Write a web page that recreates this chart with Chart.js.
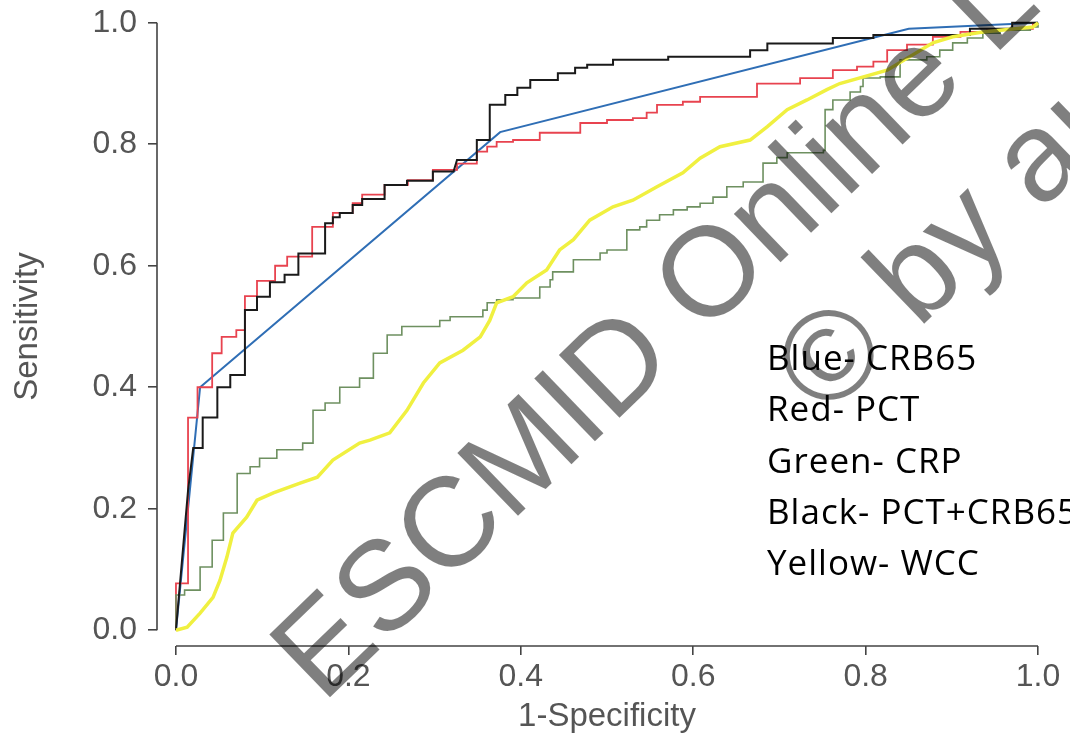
<!DOCTYPE html>
<html>
<head>
<meta charset="utf-8">
<script src="https://cdn.jsdelivr.net/npm/chart.js@4.4.1/dist/chart.umd.min.js"></script>
<style>
  html, body { margin: 0; padding: 0; background: #fff; overflow: hidden; }
  #wrap { position: relative; width: 1070px; height: 740px; overflow: hidden; background: #fff; }
  #rocChart { position: absolute; left: 0; top: 0; }
  .key {
    position: absolute; left: 767px; top: 331px;
    font-family: "Open Sans", sans-serif; font-size: 35px; line-height: 51.3px; letter-spacing: 1px;
    color: #000; white-space: pre;
  }
  .stamp {
    position: absolute; left: 242px; top: 621px;
    transform-origin: 0 0; transform: rotate(-44deg);
    font-family: "Liberation Sans", Arial, sans-serif; font-size: 127px; line-height: 144px;
    text-align: center; color: rgba(0, 0, 0, 0.5); white-space: pre; pointer-events: none;
  }
</style>
</head>
<body>
<div id="wrap">
  <canvas id="rocChart" width="1070" height="740"></canvas>
  <div class="key">Blue- CRB65
Red- PCT
Green- CRP
Black- PCT+CRB65
Yellow- WCC</div>
  <div class="stamp">ESCMID Online Lecture Library
© by author</div>
</div>
<script>
(function() {
  'use strict';

  // axis ticks
  const xTicks = [0, 0.2, 0.4, 0.6, 0.8, 1.0];
  const yTicks = [0, 0.2, 0.4, 0.6, 0.8, 1.0];

  // ROC points: [1-specificity, sensitivity]
  const crb65 = [[0, 0], [0.028, 0.40], [0.376, 0.82], [0.85, 0.99], [1, 1]];

  const pct = [
    [0, 0], [0, 0.077], [0.014, 0.077], [0.014, 0.35], [0.025, 0.35], [0.025, 0.40],
    [0.042, 0.40], [0.042, 0.456], [0.053, 0.456], [0.053, 0.483], [0.070, 0.483], [0.070, 0.494],
    [0.080, 0.494], [0.080, 0.55], [0.094, 0.55], [0.094, 0.575], [0.115, 0.575], [0.115, 0.60],
    [0.129, 0.60], [0.129, 0.615], [0.158, 0.615], [0.158, 0.664], [0.182, 0.664], [0.182, 0.687],
    [0.205, 0.687], [0.205, 0.703], [0.216, 0.703], [0.216, 0.717], [0.242, 0.717], [0.242, 0.733],
    [0.269, 0.733], [0.269, 0.741], [0.298, 0.741], [0.298, 0.758], [0.326, 0.758], [0.326, 0.768],
    [0.349, 0.768], [0.349, 0.788], [0.361, 0.788], [0.361, 0.796], [0.372, 0.796], [0.372, 0.804],
    [0.391, 0.804], [0.391, 0.807], [0.422, 0.807], [0.422, 0.819], [0.469, 0.819], [0.469, 0.835],
    [0.50, 0.835], [0.50, 0.84], [0.530, 0.84], [0.530, 0.843], [0.546, 0.843], [0.546, 0.852],
    [0.558, 0.852], [0.558, 0.865], [0.588, 0.865], [0.588, 0.870], [0.608, 0.870], [0.608, 0.878],
    [0.674, 0.878], [0.674, 0.90], [0.724, 0.90], [0.724, 0.909], [0.762, 0.909], [0.762, 0.922],
    [0.790, 0.922], [0.790, 0.928], [0.809, 0.928], [0.809, 0.936], [0.825, 0.936], [0.825, 0.955],
    [0.848, 0.955], [0.848, 0.964], [0.878, 0.964], [0.878, 0.977], [0.910, 0.977], [0.910, 0.985],
    [0.941, 0.985], [0.941, 0.99], [0.994, 0.99], [0.994, 1.0], [1, 1]
  ];

  const crp = [
    [0, 0], [0, 0.058], [0.010, 0.058], [0.010, 0.066], [0.028, 0.066], [0.028, 0.104],
    [0.042, 0.104], [0.042, 0.148], [0.055, 0.148], [0.055, 0.193], [0.071, 0.193], [0.071, 0.258],
    [0.086, 0.258], [0.086, 0.269], [0.097, 0.269], [0.097, 0.283], [0.117, 0.283], [0.117, 0.297],
    [0.147, 0.297], [0.147, 0.308], [0.159, 0.308], [0.159, 0.362], [0.173, 0.362], [0.173, 0.374],
    [0.190, 0.374], [0.190, 0.40], [0.213, 0.40], [0.213, 0.415], [0.229, 0.415], [0.229, 0.456],
    [0.245, 0.456], [0.245, 0.486], [0.262, 0.486], [0.262, 0.50], [0.306, 0.50], [0.306, 0.51],
    [0.318, 0.51], [0.318, 0.516], [0.356, 0.516], [0.356, 0.527], [0.361, 0.527], [0.361, 0.539],
    [0.372, 0.539], [0.372, 0.544], [0.391, 0.544], [0.391, 0.547], [0.422, 0.547], [0.422, 0.565],
    [0.434, 0.565], [0.434, 0.577], [0.437, 0.577], [0.437, 0.590], [0.461, 0.590], [0.461, 0.61],
    [0.492, 0.61], [0.492, 0.621], [0.50, 0.621], [0.50, 0.626], [0.523, 0.626], [0.523, 0.659],
    [0.538, 0.659], [0.538, 0.664], [0.546, 0.664], [0.546, 0.675], [0.561, 0.675], [0.561, 0.684],
    [0.577, 0.684], [0.577, 0.692], [0.593, 0.692], [0.593, 0.697], [0.608, 0.697], [0.608, 0.703],
    [0.623, 0.703], [0.623, 0.713], [0.639, 0.713], [0.639, 0.73], [0.658, 0.73], [0.658, 0.738],
    [0.681, 0.738], [0.681, 0.769], [0.697, 0.769], [0.697, 0.778], [0.709, 0.778], [0.709, 0.786],
    [0.751, 0.786], [0.751, 0.79], [0.753, 0.79], [0.753, 0.857], [0.762, 0.857], [0.762, 0.873],
    [0.782, 0.873], [0.782, 0.886], [0.794, 0.886], [0.794, 0.895], [0.797, 0.895], [0.797, 0.909],
    [0.817, 0.909], [0.817, 0.911], [0.840, 0.911], [0.840, 0.939], [0.871, 0.939], [0.871, 0.944],
    [0.886, 0.944], [0.886, 0.955], [0.901, 0.955], [0.901, 0.967], [0.918, 0.967], [0.918, 0.975],
    [0.936, 0.975], [0.936, 0.983], [0.956, 0.983], [0.956, 0.988], [0.991, 0.988], [0.991, 0.993],
    [1, 0.993], [1, 1]
  ];

  const pctCrb65 = [
    [0, 0], [0.014, 0.23], [0.020, 0.30], [0.031, 0.30], [0.031, 0.35], [0.048, 0.35],
    [0.048, 0.40], [0.063, 0.40], [0.063, 0.42], [0.080, 0.42], [0.080, 0.527], [0.094, 0.527],
    [0.094, 0.549], [0.109, 0.549], [0.109, 0.573], [0.126, 0.573], [0.126, 0.585], [0.142, 0.585],
    [0.142, 0.62], [0.173, 0.62], [0.173, 0.67], [0.182, 0.67], [0.182, 0.68], [0.190, 0.68],
    [0.190, 0.687], [0.205, 0.687], [0.205, 0.70], [0.216, 0.70], [0.216, 0.71], [0.242, 0.71],
    [0.242, 0.733], [0.268, 0.733], [0.268, 0.74], [0.298, 0.74], [0.298, 0.755], [0.322, 0.755],
    [0.326, 0.774], [0.349, 0.774], [0.349, 0.807], [0.364, 0.807], [0.364, 0.865], [0.382, 0.865],
    [0.382, 0.881], [0.396, 0.881], [0.396, 0.893], [0.411, 0.893], [0.411, 0.906], [0.443, 0.906],
    [0.443, 0.917], [0.463, 0.917], [0.463, 0.926], [0.477, 0.926], [0.477, 0.931], [0.507, 0.931],
    [0.507, 0.939], [0.571, 0.939], [0.571, 0.944], [0.666, 0.944], [0.666, 0.955], [0.686, 0.955],
    [0.686, 0.966], [0.762, 0.966], [0.762, 0.975], [0.809, 0.975], [0.809, 0.98], [0.921, 0.98],
    [0.921, 0.99], [0.97, 0.99], [0.97, 1.0], [1, 1]
  ];

  const wcc = [
    [0, 0], [0.013, 0.005], [0.028, 0.028], [0.043, 0.054], [0.051, 0.082], [0.059, 0.12],
    [0.066, 0.16], [0.082, 0.186], [0.094, 0.214], [0.113, 0.226], [0.144, 0.242], [0.164, 0.252],
    [0.182, 0.28], [0.213, 0.308], [0.225, 0.313], [0.248, 0.325], [0.268, 0.362], [0.287, 0.407],
    [0.306, 0.44], [0.333, 0.461], [0.353, 0.483], [0.364, 0.51], [0.372, 0.539], [0.391, 0.549],
    [0.407, 0.572], [0.430, 0.593], [0.445, 0.626], [0.461, 0.643], [0.480, 0.675], [0.507, 0.697],
    [0.530, 0.708], [0.558, 0.73], [0.588, 0.753], [0.608, 0.777], [0.631, 0.796], [0.666, 0.807],
    [0.686, 0.829], [0.709, 0.857], [0.732, 0.873], [0.755, 0.89], [0.770, 0.90], [0.825, 0.922],
    [0.878, 0.967], [0.901, 0.977], [0.936, 0.985], [0.994, 0.993], [1, 1]
  ];

  const toXY = pts => pts.map(p => ({ x: p[0], y: p[1] }));

  function line(label, pts, color, width, order) {
    return {
      label: label,
      data: toXY(pts),
      borderColor: color,
      borderWidth: width,
      pointRadius: 0,
      fill: false,
      tension: 0,
      order: order
    };
  }

  // R-style axis lines that only run from the first to the last tick
  const axisLines = {
    id: 'axisLines',
    afterDraw(chart) {
      const { ctx, scales: { x, y }, chartArea } = chart;
      ctx.save();
      ctx.strokeStyle = '#444';
      ctx.lineWidth = 1.6;
      ctx.beginPath();
      ctx.moveTo(x.getPixelForValue(xTicks[0]), chartArea.bottom);
      ctx.lineTo(x.getPixelForValue(xTicks[xTicks.length - 1]), chartArea.bottom);
      ctx.moveTo(chartArea.left, y.getPixelForValue(yTicks[0]));
      ctx.lineTo(chartArea.left, y.getPixelForValue(yTicks[yTicks.length - 1]));
      ctx.stroke();
      ctx.restore();
    }
  };

  const tickFont = { family: '"Liberation Sans", Arial, sans-serif', size: 32 };
  const titleFont = { family: '"Liberation Sans", Arial, sans-serif', size: 33 };

  new Chart(document.getElementById('rocChart'), {
    type: 'line',
    data: {
      datasets: [
        line('CRB65', crb65, '#2f6eb5', 2, 5),
        line('PCT', pct, '#e8434f', 1.8, 4),
        line('CRP', crp, '#6e9060', 1.6, 3),
        line('PCT+CRB65', pctCrb65, '#1a1a1a', 2, 2),
        line('WCC', wcc, '#f0f040', 3.5, 1)
      ]
    },
    options: {
      responsive: false,
      animation: false,
      events: [],
      layout: { padding: { left: 0, top: 7, right: 13, bottom: 0 } },
      plugins: { legend: { display: false }, tooltip: { enabled: false } },
      scales: {
        x: {
          type: 'linear',
          min: -0.022,
          max: 1.022,
          afterBuildTicks: s => { s.ticks = xTicks.map(v => ({ value: v })); },
          afterFit: s => { s.height = 94; s.paddingLeft = 0; s.paddingRight = 0; },
          ticks: { callback: v => v.toFixed(1), color: '#555', font: tickFont, padding: 3, maxRotation: 0 },
          grid: { drawOnChartArea: false, drawTicks: true, tickLength: 9, color: '#444', lineWidth: 1.6 },
          border: { display: false },
          title: { display: true, text: '1-Specificity', color: '#555', font: titleFont, padding: { top: 0, bottom: 3 } }
        },
        y: {
          type: 'linear',
          min: -0.026,
          max: 1.026,
          afterBuildTicks: s => { s.ticks = yTicks.map(v => ({ value: v })); },
          afterFit: s => { s.width = 157; s.paddingTop = 0; s.paddingBottom = 0; },
          ticks: { callback: v => v.toFixed(1), color: '#555', font: tickFont, padding: 11 },
          grid: { drawOnChartArea: false, drawTicks: true, tickLength: 9, color: '#444', lineWidth: 1.6 },
          border: { display: false },
          title: { display: true, text: 'Sensitivity', color: '#555', font: titleFont, padding: { top: 8, bottom: 0 } }
        }
      }
    },
    plugins: [axisLines]
  });
})();
</script>
</body>
</html>
